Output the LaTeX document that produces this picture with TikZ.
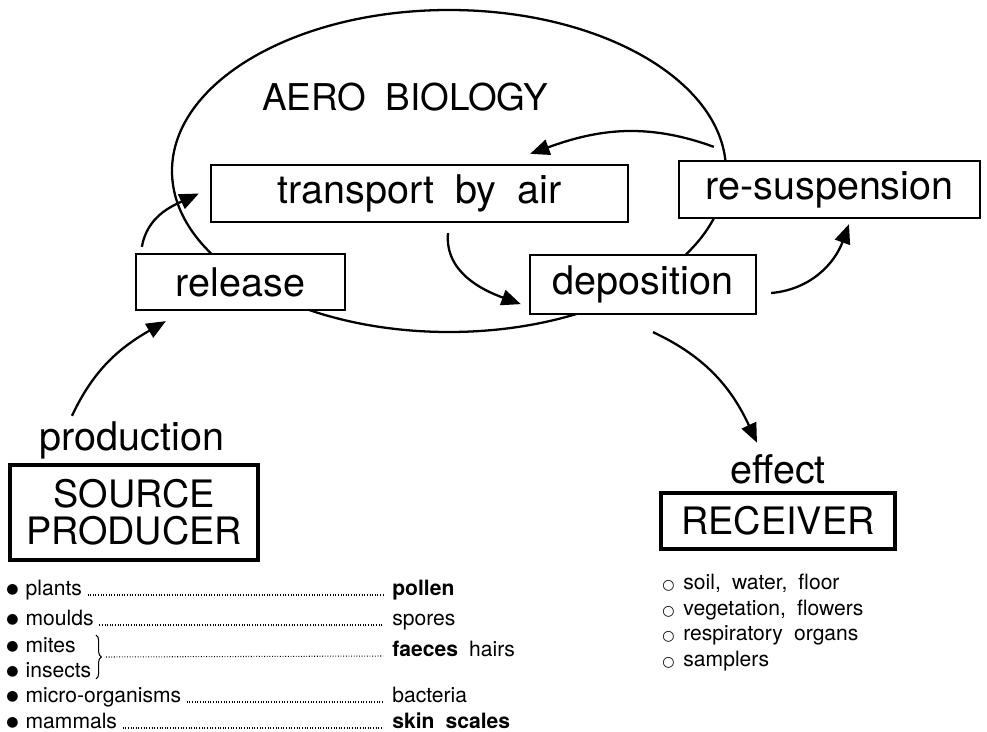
\documentclass[tikz,border=0pt]{standalone}
\usepackage{fontspec}
\setmainfont{TeX Gyre Heros}[WordSpace=1.9]
\newfontfamily\symfont{DejaVu Sans}
\usepackage{tikz}
\usetikzlibrary{positioning, calc, arrows.meta, decorations.pathreplacing}

\newcommand{\dotbullet}{\raisebox{0.8pt}{\symfont\fontsize{8}{8}\selectfont ●}}
\newcommand{\ringbullet}{{\symfont\fontsize{8}{8}\selectfont ○}}

\begin{document}
\begin{tikzpicture}[
        stagebox/.style={
            rectangle, draw=black, fill=white, line width=1.3pt,
            inner sep=0pt, font=\fontsize{22.5}{26}\selectfont
        },
        actorbox/.style={
            rectangle, draw=black, fill=white, line width=2.2pt,
            inner sep=0pt, align=center, font=\fontsize{21.5}{21}\selectfont
        },
        steplabel/.style={inner sep=0pt, font=\fontsize{22.5}{26}\selectfont},
        flow/.style={line width=1.3pt, -{Triangle[length=11pt, width=9pt]}},
        listitem/.style={anchor=base west, inner sep=0pt, font=\fontsize{12}{14}\selectfont},
        leader/.style={line width=0.6pt, dash pattern=on 0.5pt off 1pt}
    ]
        \useasboundingbox (0,0) rectangle (19.74,-14.64);

        % the aerobiology cloud
        \draw[line width=1.3pt] (8.98,-3.42) ellipse [x radius=5.54cm, y radius=3.22cm];
        \node[inner sep=0pt, font=\fontsize{21}{24}\selectfont] (aero) at (8.10,-1.94) {AERO BIOLOGY};

        \node[stagebox, minimum width=8.34cm, minimum height=1.14cm] (transport) at (8.39,-3.87) {transport by air};
        \node[stagebox, minimum width=4.18cm, minimum height=1.12cm] (release) at (4.81,-5.64) {release};
        \node[stagebox, minimum width=4.52cm, minimum height=1.18cm] (deposition) at (12.86,-5.69) {deposition};
        \node[stagebox, minimum width=6.02cm, minimum height=1.14cm] (resusp) at (16.59,-3.79) {re-suspension};

        \node[steplabel, anchor=base] (production) at (2.64,-9.00) {production};
        \node[actorbox, minimum width=4.96cm, minimum height=1.90cm] (source) at (2.68,-10.25) {SOURCE\\PRODUCER};

        \node[steplabel, anchor=base] (effect) at (15.56,-9.66) {effect};
        \node[actorbox, minimum width=4.68cm, minimum height=1.12cm] (receiver) at (15.56,-10.42) {RECEIVER};

        \draw[flow] ([xshift=-1.2cm,yshift=0.1cm]production.north) to[out=65, in=210] ([xshift=0.62cm,yshift=-0.2cm]release.south west);
        \draw[flow] ([xshift=0.14cm,yshift=0.12cm]release.north west) to[out=80, in=205] ([xshift=-0.22cm]transport.west);
        \draw[flow] ([xshift=0.57cm,yshift=-0.2cm]transport.south) to[out=265, in=160] ([xshift=-0.16cm,yshift=0.22cm]deposition.south west);
        \draw[flow] ([xshift=0.28cm,yshift=-0.17cm]deposition.east) to[out=5, in=250] ([xshift=0.39cm,yshift=-0.1cm]resusp.south);
        \draw[flow] ([xshift=0.72cm,yshift=0.26cm]resusp.north west) to[out=160, in=20] ([xshift=-1.98cm,yshift=0.2cm]transport.north east);
        \draw[flow] ([xshift=0.2cm,yshift=-0.34cm]deposition.south) to[out=-25, in=115] ([xshift=-0.42cm,yshift=0.22cm]effect.north);

        % sources
        \node[listitem] (plants) at (0.12,-11.90) {\dotbullet\hspace{4pt}plants};
        \node[listitem] (moulds) at (0.12,-12.50) {\dotbullet\hspace{4pt}moulds};
        \node[listitem] (mites) at (0.12,-13.04) {\dotbullet\hspace{4pt}mites};
        \node[listitem] (insects) at (0.12,-13.54) {\dotbullet\hspace{4pt}insects};
        \node[listitem] (micro) at (0.12,-14.04) {\dotbullet\hspace{4pt}micro-organisms};
        \node[listitem] (mammals) at (0.12,-14.56) {\dotbullet\hspace{4pt}mammals};

        \node[listitem] (pollen) at (7.84,-11.90) {\textbf{pollen}};
        \node[listitem] (spores) at (7.84,-12.50) {spores};
        \node[listitem] (faeces) at (7.84,-13.12) {\textbf{faeces} hairs};
        \node[listitem] (bacteria) at (7.84,-14.04) {bacteria};
        \node[listitem] (skin) at (7.84,-14.56) {\textbf{skin scales}};

        \coordinate (bracetop) at (1.92,-12.70);
        \coordinate (bracebot) at (1.92,-13.58);
        \coordinate (bracetip) at (2.12,-13.14);
        \draw[decorate, decoration={brace, amplitude=3pt}, line width=0.6pt] (bracetop) -- (bracebot);

        \foreach \a/\b in {plants/pollen, moulds/spores, micro/bacteria, mammals/skin}
            \draw[leader] ([xshift=3pt]\a.base east) -- ([xshift=-5pt]\b.base west);
        \draw[leader] (bracetip) -- ([xshift=-5pt]faeces.base west);

        % receivers
        \node[listitem] (soil) at (13.24,-11.78) {\ringbullet\hspace{5pt}soil, water, floor};
        \node[listitem] (vegetation) at (13.24,-12.30) {\ringbullet\hspace{5pt}vegetation, flowers};
        \node[listitem] (respiratory) at (13.24,-12.80) {\ringbullet\hspace{5pt}respiratory organs};
        \node[listitem] (samplers) at (13.24,-13.32) {\ringbullet\hspace{5pt}samplers};
    \end{tikzpicture}
\end{document}
